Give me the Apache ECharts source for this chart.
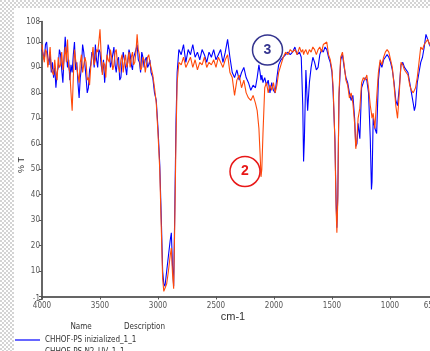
<!DOCTYPE html>
<html><head><meta charset="utf-8">
<script src="https://cdn.jsdelivr.net/npm/echarts@6/dist/echarts.min.js"></script>
<style>html,body{margin:0;padding:0;overflow:hidden;background:#fff}#c{width:460px;height:351px}</style>
</head><body><div id="c"></div>
<script>
const wavenumbers = [
4000,3990,3980,3970,3960,3950,3940,3930,3920,3910,
3900,3890,3880,3870,3860,3850,3840,3830,3820,3810,
3800,3790,3780,3770,3760,3750,3740,3730,3720,3710,
3700,3690,3680,3670,3660,3650,3640,3630,3620,3610,
3600,3590,3580,3570,3560,3550,3540,3530,3520,3510,
3500,3490,3480,3470,3460,3450,3440,3430,3420,3410,
3400,3390,3380,3370,3360,3350,3340,3330,3320,3310,
3300,3290,3280,3270,3260,3250,3240,3230,3220,3210,
3200,3190,3180,3170,3160,3150,3140,3130,3120,3110,
3100,3090,3080,3070,3060,3045,3030,
3015,3000,2985,2970,2960,2950,2940,2925,2910,2895,
2885,2875,2865,2855,2845,2835,2820,2800,2780,2760,
2740,2720,2700,2680,2660,2640,2620,2600,2580,2560,
2540,2520,2500,2480,2460,2440,2420,2400,2380,2360,
2340,2320,2300,2280,2260,2240,2220,2200,2180,2160,
2145,2130,2120,2112,2105,2095,2080,2065,2050,2035,
2020,2005,1990,1975,1960,1940,1920,1900,1880,1860,
1840,1820,1800,1780,1765,1752,1745,1738,1725,1710,
1695,1680,1665,1650,1635,1620,1605,1590,1575,1560,
1545,1530,1515,1500,1490,1475,1465,1458,1450,1440,
1425,1410,1395,1380,1365,1350,1335,1320,1305,1295,
1285,1275,1260,1245,1230,1215,1200,1185,1170,1160,
1155,1145,1130,1115,1100,1085,1070,1055,1040,1025,
1010,995,980,965,950,935,920,905,890,875,
860,845,830,815,800,790,780,765,750,735,
720,705,690,675,660,650
];
const blueT = [
97,95,93,99,100,94,91,96,88,92,
86,90,82,88,90,97,95,89,84,94,
102,96,90,93,85,91,88,95,100,89,
92,84,78,86,90,99,96,91,86,80,
82,89,91,96,95,90,99,93,90,97,
96,91,88,93,84,90,94,99,97,90,
92,95,98,91,88,93,94,85,86,92,
96,93,90,87,93,97,95,91,89,94,
94,97,99,93,92,88,96,94,90,93,
94,90,91,93,88,86,80,
77,66,52,28,10,5,4,10,16,22,
25,12,4,35,68,88,97,95,99,92,
97,95,99,94,96,93,97,95,92,96,
94,97,93,95,97,92,96,101,94,88,
86,89,85,88,90,86,84,81,83,82,
86,91,88,85,87,84,86,83,85,80,
84,81,80,86,91,93,94,95,96,95,
96,98,95,96,94,75,53,62,89,73,
84,90,94,92,89,90,95,97,96,98,
97,94,92,88,80,62,38,27,40,78,
93,95,90,86,84,80,77,79,70,59,
60,68,62,82,84,86,85,80,62,42,
45,70,66,64,85,92,90,93,94,95,
94,92,89,84,77,75,82,91,92,90,
90,88,84,80,76,73,75,84,88,92,
94,98,103,101,99,98
];
const orangeT = [
99,95,92,97,96,90,93,98,90,88,
87,93,88,85,94,90,91,96,89,93,
98,92,101,90,88,80,73,86,97,93,
90,87,84,92,95,88,88,94,92,85,
86,83,90,94,98,91,93,97,96,100,
105,95,87,92,91,86,95,93,92,97,
94,89,91,96,97,92,90,88,93,95,
88,92,95,90,92,96,90,94,96,91,
92,96,103,97,95,89,90,94,93,88,
91,94,95,92,90,87,82,
76,64,50,24,7,2,2,5,10,16,
19,9,3,30,62,84,92,91,94,90,
92,94,90,93,89,92,91,94,90,92,
91,93,90,94,92,90,93,95,88,86,
79,85,87,82,85,80,78,77,79,76,
73,66,56,47,50,64,82,84,80,83,
81,84,80,83,88,91,94,96,95,97,
96,97,95,98,96,97,95,96,97,95,
97,96,98,97,95,97,98,96,99,99,
100,95,93,89,82,61,35,25,38,80,
94,96,91,85,83,78,80,76,68,58,
62,70,74,84,86,85,87,82,75,72,
70,72,66,78,88,93,91,94,96,97,
96,93,90,83,75,70,80,92,91,89,
89,87,83,81,80,80,82,86,92,98,
97,99,100,101,99,100
];
const seriesNames = ['CHHOF-PS inizialized_1_1', 'CHHOF-PS N2_UV_1_1'];
const xAxisName = 'cm-1';
const yAxisName = '% T';

const chart = echarts.init(document.getElementById('c'), null, {renderer: 'canvas'});

const pc = document.createElement('canvas');
pc.width = 4; pc.height = 4;
const pctx = pc.getContext('2d');
pctx.fillStyle = '#ffffff'; pctx.fillRect(0,0,4,4);
pctx.fillStyle = '#d4d4d4'; pctx.fillRect(0,0,2,2); pctx.fillRect(2,2,2,2);
const checker = {image: pc, repeat: 'repeat'};

const blueData = wavenumbers.map((w,i)=>[w, blueT[i]]);
const orangeData = wavenumbers.map((w,i)=>[w, orangeT[i]]);
const labelFont = "'Liberation Sans Narrow','DejaVu Sans Condensed','Liberation Sans',sans-serif";
const smallFont = "8px 'Liberation Sans Narrow','DejaVu Sans Condensed','Liberation Sans',sans-serif";

chart.setOption({
  animation: false,
  backgroundColor: '#ffffff',
  grid: {left: 42, top: 21.6, width: 388.6, bottom: 52, containLabel: false},
  xAxis: {
    type: 'value', min: 650, max: 4000, inverse: true,
    minInterval: 500, maxInterval: 500,
    axisLine: {show: true, lineStyle: {color: '#333', width: 1.5}},
    axisTick: {show: true, length: 3, lineStyle: {color: '#555'}},
    axisLabel: {color: '#555', fontSize: 8, fontFamily: labelFont, margin: 3, showMinLabel: true, showMaxLabel: true,
      formatter: v => String(v)},
    splitLine: {show: false}
  },
  yAxis: {
    type: 'value', min: -1, max: 108,
    minInterval: 10, maxInterval: 10,
    axisLine: {show: true, lineStyle: {color: '#333', width: 1.5}},
    axisTick: {show: true, length: 3, lineStyle: {color: '#555'}},
    axisLabel: {color: '#555', fontSize: 8, fontFamily: labelFont, margin: 2, showMinLabel: true, showMaxLabel: true,
      formatter: v => (v === 0 ? '' : String(v))},
    splitLine: {show: false}
  },
  series: [
    {name: seriesNames[0], type: 'line', data: blueData, showSymbol: false, symbol: 'none',
     lineStyle: {color: '#0000ff', width: 1.1}, itemStyle: {color: '#0000ff'}, z: 2},
    {name: seriesNames[1], type: 'line', data: orangeData, showSymbol: false, symbol: 'none',
     lineStyle: {color: '#ff4a0a', width: 1.1}, itemStyle: {color: '#ff4a0a'}, z: 3}
  ],
  graphic: [
    {type: 'rect', shape: {x: 0, y: 0, width: 14, height: 351}, style: {fill: checker}, z: 0, silent: true},
    {type: 'rect', shape: {x: 0, y: 0, width: 460, height: 8}, style: {fill: checker}, z: 0, silent: true},
    {type: 'text', x: 22, y: 165, rotation: Math.PI/2, style: {text: yAxisName, fill: '#333', font: "9px 'Liberation Sans',sans-serif", align: 'center', verticalAlign: 'middle', textAlign: 'center', textVerticalAlign: 'middle'}},
    {type: 'text', x: 233, y: 317, style: {text: xAxisName, fill: '#333', font: "11px 'Liberation Sans Narrow','Liberation Sans',sans-serif", align: 'center', verticalAlign: 'middle', textAlign: 'center', textVerticalAlign: 'middle'}},
    {type: 'circle', shape: {cx: 267.5, cy: 50, r: 15}, style: {fill: 'none', stroke: '#35358f', lineWidth: 1.5}, z: 10},
    {type: 'text', x: 267.5, y: 50, style: {text: '3', fill: '#35358f', font: "bold 14px 'Liberation Sans',sans-serif", align: 'center', verticalAlign: 'middle', textAlign: 'center', textVerticalAlign: 'middle'}, z: 10},
    {type: 'circle', shape: {cx: 245, cy: 171.5, r: 15}, style: {fill: 'none', stroke: '#e81818', lineWidth: 1.5}, z: 10},
    {type: 'text', x: 245, y: 171.5, style: {text: '2', fill: '#e81818', font: "bold 14px 'Liberation Sans',sans-serif", align: 'center', verticalAlign: 'middle', textAlign: 'center', textVerticalAlign: 'middle'}, z: 10},
    {type: 'text', x: 81, y: 327, style: {text: 'Name', fill: '#333', font: smallFont, align: 'center', verticalAlign: 'middle', textAlign: 'center', textVerticalAlign: 'middle'}},
    {type: 'text', x: 124, y: 327, style: {text: 'Description', fill: '#333', font: smallFont, align: 'left', verticalAlign: 'middle', textAlign: 'left', textVerticalAlign: 'middle'}},
    {type: 'line', shape: {x1: 15, y1: 340, x2: 40, y2: 340}, style: {stroke: '#0000ff', lineWidth: 1.2}},
    {type: 'text', x: 45, y: 340, style: {text: seriesNames[0], fill: '#333', font: smallFont, align: 'left', verticalAlign: 'middle', textAlign: 'left', textVerticalAlign: 'middle'}},
    {type: 'text', x: 45, y: 352, style: {text: seriesNames[1], fill: '#333', font: smallFont, align: 'left', verticalAlign: 'middle', textAlign: 'left', textVerticalAlign: 'middle'}}
  ]
});
</script></body></html>
